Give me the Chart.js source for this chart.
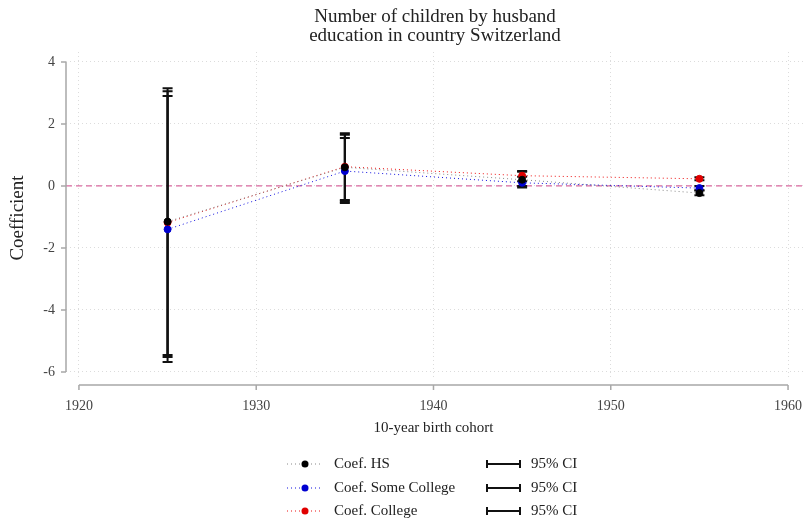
<!DOCTYPE html>
<html lang="en">
<head>
<meta charset="UTF-8">
<title>Number of children by husband education</title>
<script src="https://cdn.jsdelivr.net/npm/chart.js"></script>
<style>
  body { margin: 0; background: #fff; }
</style>
</head>
<body>
<canvas id="coefChart" width="809" height="521"></canvas>
<script>
// data
const cohorts = [1925, 1935, 1945, 1955];

const coefHS   = [-1.15, 0.60, 0.20, -0.23];
const lowHS    = [-5.45, -0.45, 0.00, -0.30];
const highHS   = [3.15, 1.70, 0.46, -0.15];

const coefSome = [-1.40, 0.48, 0.10, -0.07];
const lowSome  = [-5.68, -0.55, -0.05, -0.14];
const highSome = [2.90, 1.55, 0.30, 0.00];

const coefCol  = [-1.18, 0.62, 0.33, 0.23];
const lowCol   = [-5.52, -0.50, 0.15, 0.18];
const highCol  = [3.05, 1.65, 0.48, 0.28];

const xTicks = [1920, 1930, 1940, 1950, 1960];
const yTicks = [-6, -4, -2, 0, 2, 4];

const titleLines = ['Number of children by husband', 'education in country Switzerland'];
const seriesNames = ['Coef. HS', 'Coef. Some College', 'Coef. College'];

const serif = "'Liberation Serif', 'DejaVu Serif', serif";

function pts(vals) {
    return cohorts.map((c, i) => ({ x: c, y: vals[i] }));
}

// error bars + axes + legend, all drawn through the chart scales
const statPlugin = {
    id: 'statPlugin',
    beforeDatasetsDraw(chart) {
        const { ctx, scales: { x, y }, chartArea } = chart;
        ctx.save();
        // zero line
        ctx.strokeStyle = '#d96aa0';
        ctx.lineWidth = 1.2;
        ctx.setLineDash([6, 4]);
        ctx.beginPath();
        ctx.moveTo(chartArea.left, y.getPixelForValue(0));
        ctx.lineTo(chartArea.right, y.getPixelForValue(0));
        ctx.stroke();
        ctx.setLineDash([]);

        // CIs
        ctx.strokeStyle = '#111';
        ctx.lineWidth = 2;
        [[lowHS, highHS], [lowSome, highSome], [lowCol, highCol]].forEach(([lo, hi]) => {
            cohorts.forEach((c, i) => {
                const px = x.getPixelForValue(c);
                const y1 = y.getPixelForValue(lo[i]);
                const y2 = y.getPixelForValue(hi[i]);
                ctx.beginPath();
                ctx.moveTo(px, y1); ctx.lineTo(px, y2);
                ctx.moveTo(px - 5, y1); ctx.lineTo(px + 5, y1);
                ctx.moveTo(px - 5, y2); ctx.lineTo(px + 5, y2);
                ctx.stroke();
            });
        });
        ctx.restore();
    },
    afterDraw(chart) {
        const { ctx, scales: { x, y }, chartArea } = chart;
        ctx.save();
        // axis lines
        ctx.strokeStyle = '#a8a8a8';
        ctx.lineWidth = 1.5;
        const ax = chartArea.left;
        ctx.beginPath();
        ctx.moveTo(ax, y.getPixelForValue(yTicks[yTicks.length - 1]));
        ctx.lineTo(ax, y.getPixelForValue(yTicks[0]));
        yTicks.forEach(v => {
            const py = y.getPixelForValue(v);
            ctx.moveTo(ax - 5, py); ctx.lineTo(ax, py);
        });
        const ay = chartArea.bottom + 5;
        ctx.moveTo(x.getPixelForValue(xTicks[0]), ay);
        ctx.lineTo(x.getPixelForValue(xTicks[xTicks.length - 1]), ay);
        xTicks.forEach(v => {
            const px = x.getPixelForValue(v);
            ctx.moveTo(px, ay); ctx.lineTo(px, ay + 5);
        });
        ctx.stroke();

        // titles
        ctx.fillStyle = '#222';
        ctx.textAlign = 'center';
        ctx.textBaseline = 'middle';
        ctx.font = '19px ' + serif;
        const cx = (chartArea.left + chartArea.right) / 2;
        ctx.fillText(titleLines[0], cx, 17);
        ctx.fillText(titleLines[1], cx, 36);
        ctx.font = '15px ' + serif;
        ctx.fillText('10-year birth cohort', x.getPixelForValue(1940), 428);
        ctx.save();
        ctx.translate(18, (chartArea.top + chartArea.bottom) / 2 + 2);
        ctx.rotate(-Math.PI / 2);
        ctx.font = '19px ' + serif;
        ctx.fillText('Coefficient', 0, 0);
        ctx.restore();

        // legend
        const rows = [464, 488, 511];
        const cols = ['#888', '#1010e0', '#ee1010'];
        const dots = ['#000', '#0000d0', '#e00000'];
        rows.forEach((ry, i) => {
            ctx.strokeStyle = cols[i];
            ctx.lineWidth = 1;
            ctx.setLineDash([1, 3]);
            ctx.beginPath();
            ctx.moveTo(287, ry); ctx.lineTo(322, ry);
            ctx.stroke();
            ctx.setLineDash([]);
            ctx.fillStyle = dots[i];
            ctx.beginPath();
            ctx.arc(305, ry, 3.5, 0, Math.PI * 2);
            ctx.fill();
            ctx.fillStyle = '#222';
            ctx.textAlign = 'left';
            ctx.font = '15px ' + serif;
            ctx.fillText(seriesNames[i], 334, ry);

            ctx.strokeStyle = '#111';
            ctx.lineWidth = 2;
            ctx.beginPath();
            ctx.moveTo(486, ry); ctx.lineTo(521, ry);
            ctx.moveTo(487, ry - 4); ctx.lineTo(487, ry + 4);
            ctx.moveTo(520, ry - 4); ctx.lineTo(520, ry + 4);
            ctx.stroke();
            ctx.fillText('95% CI', 531, ry);
        });
        ctx.restore();
    }
};

const ctx = document.getElementById('coefChart').getContext('2d');
const coefChart = new Chart(ctx, {
    type: 'scatter',
    data: {
        datasets: [
            { label: seriesNames[0], data: pts(coefHS), showLine: true, borderColor: '#888', borderWidth: 1, borderDash: [1, 3], pointBackgroundColor: '#000', pointBorderColor: '#000', pointRadius: 3.5 },
            { label: seriesNames[1], data: pts(coefSome), showLine: true, borderColor: '#1010e0', borderWidth: 1, borderDash: [1, 3], pointBackgroundColor: '#0000d0', pointBorderColor: '#0000d0', pointRadius: 3.5 },
            { label: seriesNames[2], data: pts(coefCol), showLine: true, borderColor: '#ee1010', borderWidth: 1, borderDash: [1, 3], pointBackgroundColor: '#e00000', pointBorderColor: '#e00000', pointRadius: 3.5 }
        ]
    },
    options: {
        responsive: false,
        animation: false,
        layout: { padding: { top: 52, right: 4, left: 0, bottom: 0 } },
        plugins: {
            legend: { display: false },
            tooltip: { enabled: false }
        },
        scales: {
            x: {
                type: 'linear',
                min: 1919.27,
                max: 1960.9,
                afterBuildTicks: s => { s.ticks = xTicks.map(v => ({ value: v })); },
                afterFit: s => { s.height = 141; s.paddingLeft = 0; s.paddingRight = 0; },
                grid: { color: '#dcdcdc', lineWidth: 1, drawTicks: false },
                border: { display: false, dash: [1, 3] },
                ticks: { padding: 18, color: '#444', font: { family: serif, size: 14 }, callback: v => String(v) }
            },
            y: {
                min: -6.26,
                max: 4.32,
                afterBuildTicks: s => { s.ticks = yTicks.map(v => ({ value: v })); },
                afterFit: s => { s.width = 66; },
                grid: { color: '#dcdcdc', lineWidth: 1, drawTicks: false },
                border: { display: false, dash: [1, 3] },
                ticks: { padding: 11, color: '#444', font: { family: serif, size: 14 } }
            }
        }
    },
    plugins: [statPlugin]
});
</script>
</body>
</html>
